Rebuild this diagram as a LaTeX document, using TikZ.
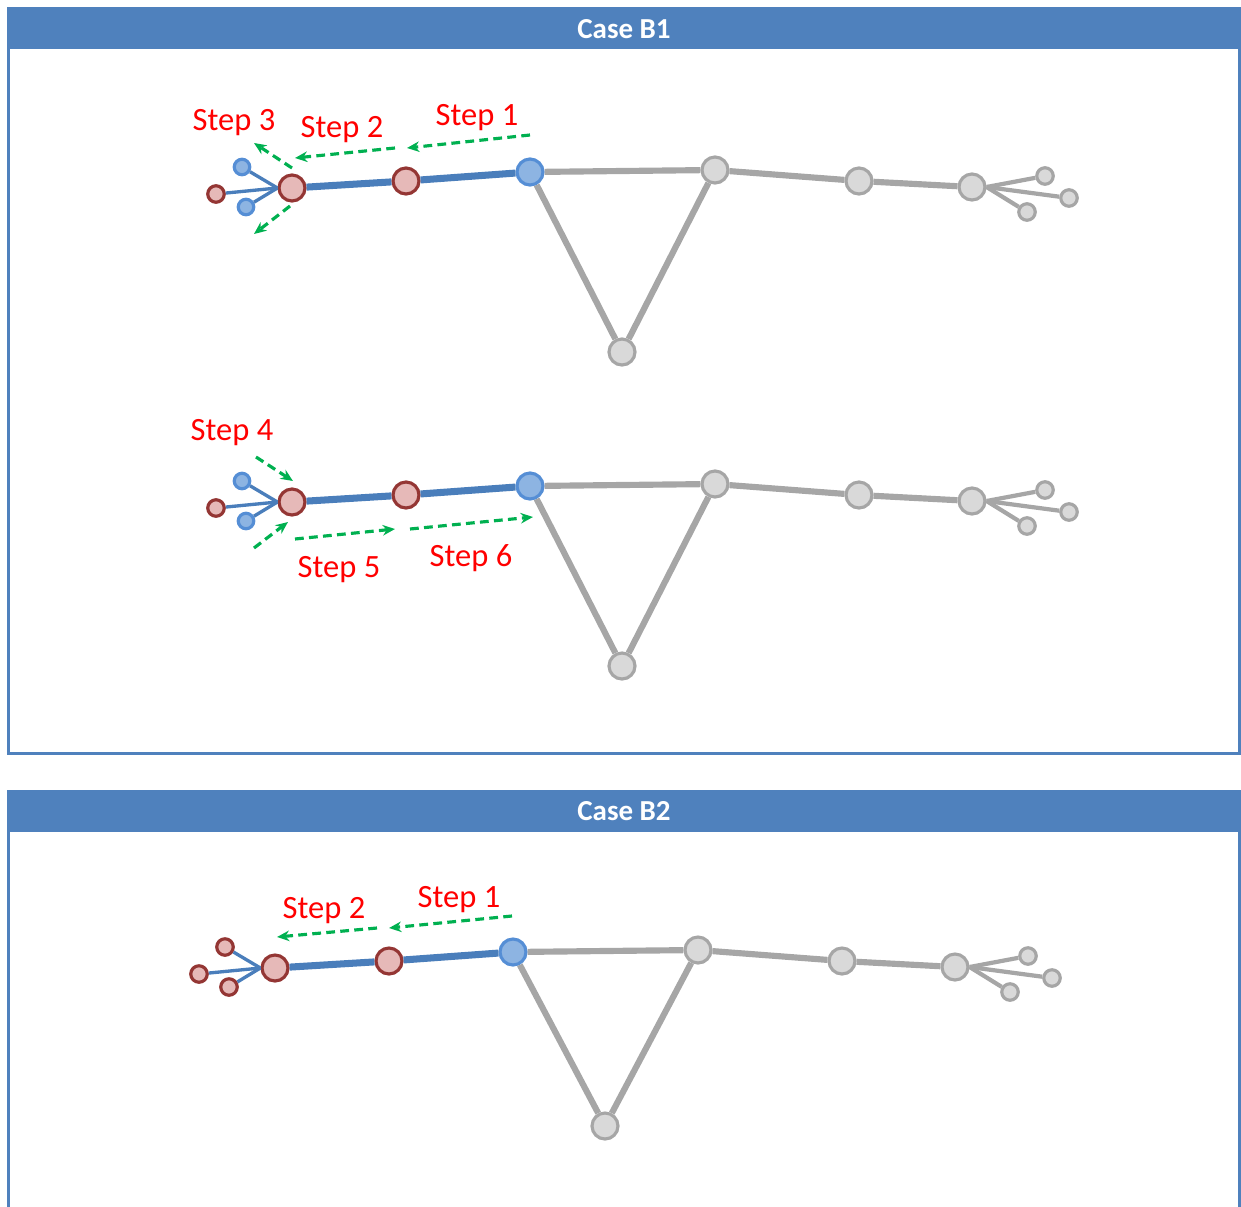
\documentclass[tikz,border=0pt]{standalone}
\usepackage{fontspec}
\setmainfont{Carlito}
\usetikzlibrary{arrows.meta}

\definecolor{headblue}{HTML}{4F81BD}
\definecolor{pathblue}{HTML}{4A7EBB}
\definecolor{hubfill}{HTML}{8DB4E2}
\definecolor{hubdraw}{HTML}{558ED5}
\definecolor{pinkfill}{HTML}{E6B9B8}
\definecolor{darkred}{HTML}{943634}
\definecolor{greyfill}{HTML}{D9D9D9}
\definecolor{greyline}{HTML}{A6A6A6}
\definecolor{stepgreen}{HTML}{00B050}

\begin{document}
\begin{tikzpicture}[x=0.02cm, y=-0.02cm,
  rednode/.style={shape=circle, draw=darkred, line width=1.8pt, fill=pinkfill, inner sep=0, minimum size=0.52cm},
  redsmall/.style={rednode, minimum size=0.33cm},
  bluenode/.style={shape=circle, draw=hubdraw, line width=1.8pt, fill=hubfill, inner sep=0, minimum size=0.52cm},
  bluesmall/.style={bluenode, minimum size=0.31cm},
  graynode/.style={shape=circle, draw=greyline, line width=1.8pt, fill=greyfill, inner sep=0, minimum size=0.52cm},
  graysmall/.style={graynode, minimum size=0.33cm},
  mainpath/.style={draw=pathblue, line width=4pt},
  leafpath/.style={draw=pathblue, line width=1.9pt},
  greypath/.style={draw=greyline, line width=3.5pt},
  greyleaf/.style={draw=greyline, line width=2.4pt},
  steparrow/.style={draw=stepgreen, line width=1.8pt, dash pattern=on 5pt off 3pt, -{Stealth[length=7pt, width=6pt]}},
  steplabel/.style={text=red, font=\fontsize{18.5}{20}\selectfont},
  header/.style={text=white, font=\fontsize{16.5}{18}\selectfont\bfseries},
]
\useasboundingbox (0,0) rectangle (1241,1207);

%%%frames
\draw[headblue, line width=1.7pt] (8.5,30) rectangle (1239.5,753.5);
\fill[headblue] (7,7) rectangle (1241,49);
\node[header] (caseone) at (624,29) {Case B1};

\draw[headblue, line width=1.7pt] (8.5,800) -- (8.5,1210);
\draw[headblue, line width=1.7pt] (1239.5,800) -- (1239.5,1210);
\fill[headblue] (7,790) rectangle (1241,832);
\node[header] (casetwo) at (624,811) {Case B2};
%%%%%%%%%

%%%graphs
\foreach \g/\dx/\dy/\leaf/\ly in {one/0/0/bluesmall/352, two/0/314/bluesmall/352, three/-17/780/redsmall/346} {
  \begin{scope}[shift={(\dx,\dy)}]
    \node[redsmall] (\g-lf) at (216,194) {};
    \node[\leaf] (\g-lu) at (242,167) {};
    \node[\leaf] (\g-ld) at (246,207) {};
    \node[rednode] (\g-a) at (292,188) {};
    \node[rednode] (\g-b) at (406,181) {};
    \node[bluenode] (\g-hub) at (530,172) {};
    \node[graynode] (\g-top) at (715,170) {};
    \node[graynode] (\g-low) at (622,\ly) {};
    \node[graynode] (\g-f) at (859,181) {};
    \node[graynode] (\g-g) at (972,187) {};
    \node[graysmall] (\g-ga) at (1045,176) {};
    \node[graysmall] (\g-gb) at (1069,198) {};
    \node[graysmall] (\g-gc) at (1027,212) {};

    \foreach \l in {lf,lu,ld}
      \draw[leafpath] (\g-\l) -- (\g-a.west);
    \draw[mainpath] (\g-a) -- (\g-b) -- (\g-hub);
    \draw[greypath] (\g-hub) -- (\g-top) -- (\g-f) -- (\g-g);
    \draw[greypath] (\g-hub) -- (\g-low) -- (\g-top);
    \foreach \l in {ga,gb,gc}
      \draw[greyleaf] (\g-g.east) -- (\g-\l);
  \end{scope}
}
%%%%%%%%%

%%%steps, case B1 upper
\coordinate (u1s) at (530,135); \coordinate (u1e) at (407,148);
\coordinate (u2s) at (395,148); \coordinate (u2e) at (295,158);
\coordinate (u3s) at (292,168); \coordinate (u3e) at (254,143);
\coordinate (u4s) at (290,206); \coordinate (u4e) at (254,234);
\draw[steparrow] (u1s) -- (u1e);
\draw[steparrow] (u2s) -- (u2e);
\draw[steparrow] (u3s) -- (u3e);
\draw[steparrow] (u4s) -- (u4e);
\node[steplabel] (stepone) at (477,118) {Step 1};
\node[steplabel] (steptwo) at (342,130) {Step 2};
\node[steplabel] (stepthree) at (234,123) {Step 3};

%%%steps, case B1 lower
\coordinate (m1s) at (256,457); \coordinate (m1e) at (293,481);
\coordinate (m2s) at (254,548); \coordinate (m2e) at (288,522);
\coordinate (m3s) at (295,539); \coordinate (m3e) at (395,529);
\coordinate (m4s) at (410,529); \coordinate (m4e) at (533,517);
\draw[steparrow] (m1s) -- (m1e);
\draw[steparrow] (m2s) -- (m2e);
\draw[steparrow] (m3s) -- (m3e);
\draw[steparrow] (m4s) -- (m4e);
\node[steplabel] (stepfour) at (232,433) {Step 4};
\node[steplabel] (stepfive) at (339,570) {Step 5};
\node[steplabel] (stepsix) at (471,558) {Step 6};

%%%steps, case B2
\coordinate (b1s) at (512,916); \coordinate (b1e) at (389,928);
\coordinate (b2s) at (377,928); \coordinate (b2e) at (277,937);
\draw[steparrow] (b1s) -- (b1e);
\draw[steparrow] (b2s) -- (b2e);
\node[steplabel] (bstepone) at (459,900) {Step 1};
\node[steplabel] (bsteptwo) at (324,911) {Step 2};
%%%%%%%%%
\end{tikzpicture}
\end{document}
